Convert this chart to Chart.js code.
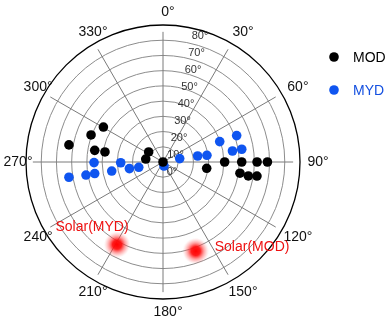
<!DOCTYPE html>
<html>
<head>
<meta charset="utf-8">
<script src="https://cdn.jsdelivr.net/npm/chart.js@4"></script>
<style>
html,body{margin:0;padding:0;background:#fff;}
#c{display:block;}
</style>
</head>
<body>
<canvas id="c" width="386" height="320" style="width:386px;height:320px"></canvas>
<script>
// ---- data (azimuth in degrees clockwise from north, zenith angle in degrees) ----
const seriesNames = ['MOD', 'MYD'];
const modAzimuth = [280.3, 290.6, 300.4, 279.7, 279.8, 305, 279.8, 0, 98.2, 90, 90, 90, 90, 98.3, 99.3, 98.5];
const modZenith  = [62.8, 50.5, 45.4, 45.5, 38.7, 11.5, 11.5, 0, 29, 40.5, 51.7, 61.8, 68.6, 51.1, 56.8, 62.4];
const mydAzimuth = [260.8, 260.4, 260.4, 269.5, 260, 269, 258.9, 257.7, 166, 78.5, 80.2, 81.3, 70.2, 70.3, 81, 80.8];
const mydZenith  = [62.6, 51.3, 45.5, 45.3, 34.2, 27.8, 22.5, 16.3, 2.7, 11.2, 23.1, 29.2, 39.6, 51.4, 46.2, 52.4];
const solarNames   = ['Solar(MYD)', 'Solar(MOD)'];
const solarAzimuth = [209.1, 159.8];
const solarZenith  = [62.1, 62.3];
const azimuthTicks = [0, 30, 60, 90, 120, 150, 180, 210, 240, 270, 300, 330];
const azimuthTickLabels = ['0°','30°','60°','90°','120°','150°','180°','210°','240°','270°','300°','330°'];
const zenithTicks = [0, 10, 20, 30, 40, 50, 60, 70, 80];
const zenithTickLabels = ['0°','10°','20°','30°','40°','50°','60°','70°','80°'];
const zenithMax = 90;

function toXY(az, zen) {
  const a = az * Math.PI / 180;
  return { x: zen * Math.sin(a), y: zen * Math.cos(a) };
}
const modPts = modAzimuth.map((a, i) => toXY(a, modZenith[i]));
const mydPts = mydAzimuth.map((a, i) => toXY(a, mydZenith[i]));
const solarPts = solarAzimuth.map((a, i) => toXY(a, solarZenith[i]));

// glowing sun marker
const sun = document.createElement('canvas');
sun.width = 26; sun.height = 26;
(function () {
  const g = sun.getContext('2d');
  const gr = g.createRadialGradient(13, 13, 0, 13, 13, 13);
  gr.addColorStop(0, 'rgba(255,0,0,1)');
  gr.addColorStop(0.35, 'rgba(255,15,15,0.95)');
  gr.addColorStop(0.62, 'rgba(255,60,60,0.5)');
  gr.addColorStop(1, 'rgba(255,130,130,0)');
  g.fillStyle = gr;
  g.fillRect(0, 0, 26, 26);
})();

const k = zenithMax / 137; // data units per pixel
const polarGrid = {
  id: 'polarGrid',
  beforeDatasetsDraw(chart) {
    const ctx = chart.ctx;
    const xs = chart.scales.x, ys = chart.scales.y;
    const cx = xs.getPixelForValue(0), cy = ys.getPixelForValue(0);
    const rpx = v => xs.getPixelForValue(v) - cx;
    ctx.save();
    // rings
    ctx.strokeStyle = '#8c8c8c';
    ctx.lineWidth = 1;
    zenithTicks.forEach(v => {
      if (v === 0) return;
      ctx.beginPath();
      ctx.arc(cx, cy, rpx(v), 0, Math.PI * 2);
      ctx.stroke();
    });
    // spokes
    ctx.strokeStyle = '#7a7a7a';
    azimuthTicks.forEach(a => {
      const p = toXY(a, 85.5);
      ctx.beginPath();
      ctx.moveTo(cx, cy);
      ctx.lineTo(xs.getPixelForValue(p.x), ys.getPixelForValue(p.y));
      ctx.stroke();
    });
    // outer circle
    ctx.strokeStyle = '#000';
    ctx.lineWidth = 1.3;
    ctx.beginPath();
    ctx.arc(cx, cy, rpx(zenithMax), 0, Math.PI * 2);
    ctx.stroke();
    // azimuth labels
    ctx.fillStyle = '#111';
    ctx.font = '14px "Liberation Sans", Arial, sans-serif';
    ctx.textAlign = 'center';
    ctx.textBaseline = 'middle';
    azimuthTicks.forEach((a, i) => {
      const p = toXY(a, 150 * k);
      ctx.fillText(azimuthTickLabels[i], xs.getPixelForValue(p.x) + 5, ys.getPixelForValue(p.y));
    });
    // zenith labels
    ctx.fillStyle = '#333';
    ctx.font = '11px "Liberation Sans", Arial, sans-serif';
    zenithTicks.forEach((v, i) => {
      const R = rpx(v);
      ctx.fillText(zenithTickLabels[i], cx + 9 + R * 0.23, cy + 10 - R * 1.12);
    });
    ctx.restore();
  },
  afterDatasetsDraw(chart) {
    const ctx = chart.ctx;
    ctx.save();
    // solar labels
    const meta = chart.getDatasetMeta(2);
    ctx.fillStyle = '#ee1111';
    ctx.font = '14px "Liberation Sans", Arial, sans-serif';
    ctx.textBaseline = 'middle';
    const e0 = meta.data[0], e1 = meta.data[1];
    ctx.textAlign = 'center';
    ctx.fillText(solarNames[0], e0.x - 25, e0.y - 17);
    ctx.textAlign = 'left';
    ctx.fillText(solarNames[1], e1.x + 19, e1.y - 4);
    // legend
    const items = [chart.data.datasets[0], chart.data.datasets[1]];
    ctx.font = '14px "Liberation Sans", Arial, sans-serif';
    items.forEach((ds, i) => {
      const y = 57 + i * 33;
      ctx.fillStyle = ds.backgroundColor;
      ctx.beginPath();
      ctx.arc(334, y, 4.8, 0, Math.PI * 2);
      ctx.fill();
      ctx.fillStyle = ds.legendText;
      ctx.textAlign = 'left';
      ctx.fillText(ds.label, 353, y + 1);
    });
    ctx.restore();
  }
};

new Chart(document.getElementById('c'), {
  type: 'scatter',
  data: {
    datasets: [
      { label: seriesNames[0], data: modPts, backgroundColor: '#000', borderWidth: 0, pointRadius: 4.8, legendText: '#000' },
      { label: seriesNames[1], data: mydPts, backgroundColor: '#0f55f0', borderWidth: 0, pointRadius: 4.8, legendText: '#1450e0' },
      { label: 'Solar', data: solarPts, pointStyle: sun, pointRadius: 6, backgroundColor: 'red' }
    ]
  },
  options: {
    responsive: false,
    animation: false,
    devicePixelRatio: 1,
    layout: { padding: 0, autoPadding: false },
    plugins: { legend: { display: false }, tooltip: { enabled: false } },
    scales: {
      x: { type: 'linear', display: false, min: -163 * k, max: 223 * k },
      y: { type: 'linear', display: false, min: -158 * k, max: 162 * k }
    }
  },
  plugins: [polarGrid]
});
</script>
</body>
</html>
